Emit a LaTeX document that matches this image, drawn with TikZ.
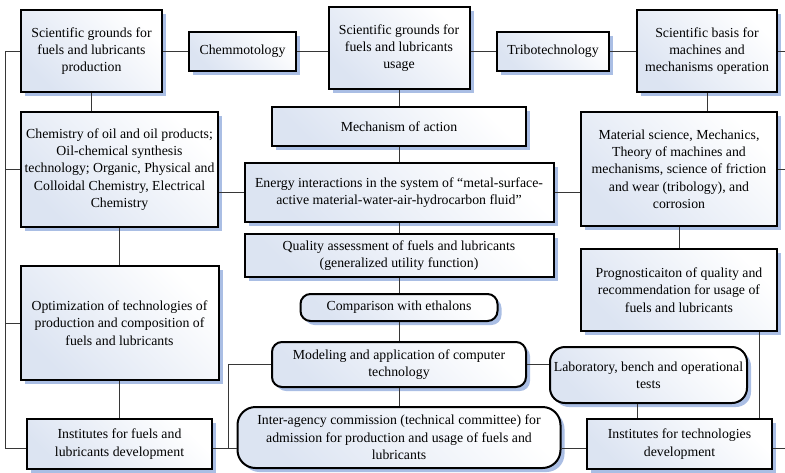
\documentclass[tikz,border=0pt]{standalone}
\usepackage[dvipsnames, svgnames]{xcolor}
\usepackage{fontspec}
\setmainfont{Liberation Serif}
\usepackage{tikz}
\usetikzlibrary{shadows}

\definecolor{boxtint}{RGB}{220,228,242}
\definecolor{shadowblue}{RGB}{170,190,228}
\definecolor{linkgray}{RGB}{55,55,55}

\tikzset{
  block/.style={draw=black, line width=2pt, shading=axis, top color=boxtint,
    middle color=white, bottom color=white, shading angle=135, inner sep=1pt, align=center,
    font=\fontsize{13.8}{17.3}\selectfont,
    drop shadow={shadow xshift=4pt, shadow yshift=-4pt, fill=shadowblue, opacity=1}},
  roundblock/.style={block, rounded corners=10pt},
  link/.style={draw=linkgray, line width=1pt}
}

\begin{document}
\begin{tikzpicture}[x=1pt, y=-1pt]
  \useasboundingbox (0,0) rectangle (785,472);

  % top row
  \node[block, minimum width=141pt, minimum height=82pt] (sgprod) at (91.5,51)
    {Scientific grounds for\\ fuels and lubricants\\ production};
  \node[block, minimum width=107pt, minimum height=39pt] (chemm) at (242.5,51) {Chemmotology};
  \node[block, minimum width=141pt, minimum height=82pt] (sgusage) at (399,48)
    {Scientific grounds for\\ fuels and lubricants\\ usage};
  \node[block, minimum width=112pt, minimum height=39pt] (tribo) at (553,51) {Tribotechnology};
  \node[block, minimum width=140pt, minimum height=82pt] (sgmach) at (707,51)
    {Scientific basis for\\ machines and\\ mechanisms operation};

  % left column
  \node[block, minimum width=197pt, minimum height=115pt] (chemistry) at (119.5,169.5)
    {Chemistry of oil and oil products;\\ Oil-chemical synthesis\\ technology; Organic, Physical and\\ Colloidal Chemistry, Electrical\\ Chemistry};
  \node[block, minimum width=198pt, minimum height=114pt] (optim) at (119.5,323)
    {Optimization of technologies of\\ production and composition of\\ fuels and lubricants};
  \node[block, minimum width=185pt, minimum height=50pt] (instfuel) at (119.5,444)
    {Institutes for fuels and\\ lubricants development};

  % middle column
  \node[block, minimum width=254pt, minimum height=39pt] (mechanism) at (399,126.5) {Mechanism of action};
  \node[block, minimum width=309pt, minimum height=59pt] (energy) at (399,192.5)
    {Energy interactions in the system of “metal-surface-\\ active material-water-air-hydrocarbon fluid”};
  \node[block, minimum width=309pt, minimum height=43pt] (quality) at (399,255.5)
    {Quality assessment of fuels and lubricants\\ (generalized utility function)};
  \node[roundblock, minimum width=197pt, minimum height=27pt] (compare) at (399,307.5) {Comparison with ethalons};
  \node[roundblock, minimum width=254pt, minimum height=45pt] (modeling) at (399,364.5)
    {Modeling and application of computer\\ technology};
  \node[roundblock, rounded corners=18pt, minimum width=323pt, minimum height=61pt] (commission) at (399,437.5)
    {Inter-agency commission (technical committee) for\\ admission for production and usage of fuels and\\ lubricants};

  % right column
  \node[block, minimum width=196pt, minimum height=114pt] (materials) at (679,169)
    {Material science, Mechanics,\\ Theory of machines and\\ mechanisms, science of friction\\ and wear (tribology), and\\ corrosion};
  \node[block, minimum width=196pt, minimum height=82pt] (prognosis) at (679,290)
    {Prognosticaiton of quality and\\ recommendation for usage of\\ fuels and lubricants};
  \node[roundblock, rounded corners=15pt, minimum width=197pt, minimum height=56pt] (labtests) at (648.5,375)
    {Laboratory, bench and operational\\ tests};
  \node[block, minimum width=185pt, minimum height=50pt] (insttech) at (679.5,444)
    {Institutes for technologies\\ development};

  % bus lines
  \coordinate (lbus) at (5,0);
  \coordinate (mbus) at (228,0);
  \coordinate (lbx) at (637,0);
  \coordinate (rbus) at (759,0);
  \coordinate (redge) at (785,0);
  \coordinate (low) at (0,448);

  \draw[link] (chemm) -- (sgprod);
  \draw[link] (chemm.east) -- (chemm.east -| sgusage.west);
  \draw[link] (tribo.west) -- (tribo.west -| sgusage.east);
  \draw[link] (tribo) -- (sgmach);
  \draw[link] (sgmach.east) -- (sgmach.east -| redge);

  \draw[link] (sgprod.west) -| (lbus |- low) -- (instfuel.west |- low);
  \draw[link] (chemistry.west) -- (chemistry.west -| lbus);
  \draw[link] (optim.west) -- (optim.west -| lbus);
  \draw[link] (sgprod.south) -- (sgprod.south |- chemistry.north);
  \draw[link] (chemistry) -- (optim);
  \draw[link] (optim) -- (instfuel);

  \foreach \a/\b in {sgusage/mechanism, mechanism/energy, energy/quality,
                     quality/compare, compare/modeling, modeling/commission}
    \draw[link] (\a) -- (\b);

  \draw[link] (energy.west) -- (energy.west -| chemistry.east);
  \draw[link] (energy.east) -- (energy.east -| materials.west);
  \draw[link] (sgmach.south) -- (sgmach.south |- materials.north);
  \draw[link] (materials.east) -- (materials.east -| redge);
  \draw[link] (materials) -- (prognosis);
  \draw[link] (rbus |- prognosis.south) -- (rbus |- insttech.north);

  \draw[link] (instfuel.east |- low) -- (commission.west |- low);
  \draw[link] (mbus |- low) |- (modeling.west);
  \draw[link] (modeling.east) -- (modeling.east -| labtests.west);
  \draw[link] (lbx |- labtests.south) -- (lbx |- insttech.north);
  \draw[link] (commission.east |- low) -- (insttech.west |- low);
  \draw[link] (insttech.east |- low) -- (redge |- low);
\end{tikzpicture}
\end{document}
